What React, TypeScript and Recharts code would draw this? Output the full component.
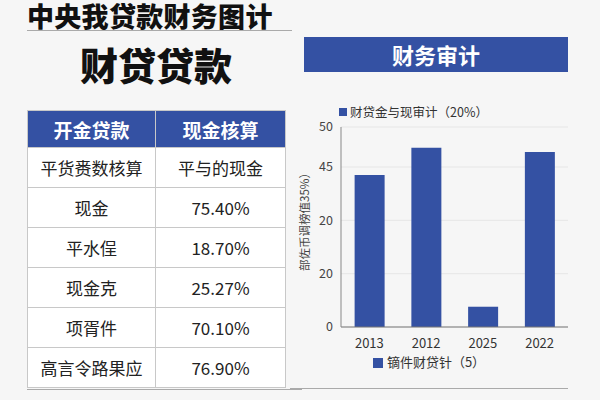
import React from 'react';
import { BarChart, Bar, XAxis, YAxis, CartesianGrid, Legend } from 'recharts';

const categories = ['2013', '2012', '2025', '2022'];
const values = [28.5, 33.6, 3.8, 32.8];
const yTicks = [0, 10, 20, 30, 37.5];
const yTickLabels = ['0', '20', '20', '45', '50'];
const seriesName = '镝件财贷针（5）';
const topLegend = '财贷金与现审计（20%）';
const yLabel = '部佐币调榜值35%）';

const pageTitle = '中央我贷款财务图计';
const subTitle = '财贷贷款';
const panelTitle = '财务审计';
const tableHeaders = ['开金贷款', '现金核算'];
const rowNames = ['平货赉数核算', '现金', '平水侱', '现金克', '项胥件', '高言令路果应'];
const rowValues = ['平与的现金', '75.40%', '18.70%', '25.27%', '70.10%', '76.90%'];

const data = categories.map((c, i) => ({ year: c, v: values[i] }));

const FONT = '"Noto Sans CJK SC", "Noto Sans", sans-serif';
const BLUE = '#3451a3';

export default function App() {
  return (
    <div style={{ position: 'absolute', left: 0, top: 0, width: 600, height: 400, background: '#f6f6f6', overflow: 'hidden', fontFamily: FONT }}>
      <div style={{ position: 'absolute', left: 27, top: 2, fontSize: 27, lineHeight: '27px', fontWeight: 900, color: '#111', letterSpacing: 0.3 }}>{pageTitle}</div>
      <div style={{ position: 'absolute', left: 27, top: 30, width: 265, height: 1, background: '#aaa' }} />
      <div style={{ position: 'absolute', left: 27, top: 40, width: 258, textAlign: 'center', fontSize: 38, lineHeight: '48px', fontWeight: 900, color: '#111' }}>{subTitle}</div>

      <table style={{ position: 'absolute', left: 27, top: 110, width: 258, borderCollapse: 'collapse', tableLayout: 'fixed', background: '#fff' }}>
        <colgroup>
          <col style={{ width: 128 }} />
          <col style={{ width: 130 }} />
        </colgroup>
        <thead>
          <tr style={{ height: 37 }}>
            {tableHeaders.map((h) => (
              <th key={h} style={{ background: BLUE, color: '#fff', fontSize: 19, fontWeight: 700, border: '1px solid #c8c8c8', padding: 0, textAlign: 'center' }}>{h}</th>
            ))}
          </tr>
        </thead>
        <tbody>
          {rowNames.map((n, i) => (
            <tr key={i} style={{ height: 40 }}>
              <td style={{ fontSize: 17, color: '#222', border: '1px solid #c8c8c8', padding: 0, textAlign: 'center' }}>{n}</td>
              <td style={{ fontSize: 17, color: '#222', border: '1px solid #c8c8c8', padding: 0, textAlign: 'center' }}>{rowValues[i]}</td>
            </tr>
          ))}
        </tbody>
      </table>
      <div style={{ position: 'absolute', left: 27, top: 389, width: 275, height: 1, background: '#aaa' }} />

      <div style={{ position: 'absolute', left: 304, top: 37, width: 264, height: 35, background: BLUE, color: '#fff', fontSize: 22, fontWeight: 700, lineHeight: '35px', textAlign: 'center' }}>{panelTitle}</div>

      <div style={{ position: 'absolute', left: 339, top: 103, fontSize: 12.5, lineHeight: '18px', color: '#333', display: 'flex', alignItems: 'center' }}>
        <span style={{ display: 'inline-block', width: 8, height: 8, background: BLUE, marginRight: 3 }} />
        {topLegend}
      </div>

      <div style={{ position: 'absolute', left: 294, top: 100 }}>
        <BarChart width={286} height={275} data={data} margin={{ top: 27, right: 12, bottom: 3, left: 6 }} barCategoryGap="24%">
          <CartesianGrid vertical={false} stroke="#e6e6e6" />
          <XAxis dataKey="year" height={25} tickLine={false} axisLine={{ stroke: '#777' }} tick={{ fontSize: 13, fill: '#333', fontFamily: FONT }} tickMargin={6} />
          <YAxis
            width={41}
            domain={[0, 37.5]}
            ticks={yTicks}
            interval={0}
            tickLine={false}
            axisLine={{ stroke: '#888' }}
            tick={{ fontSize: 12.5, fill: '#444', fontFamily: FONT }}
            tickFormatter={(v: number) => yTickLabels[yTicks.indexOf(v)] ?? ''}
            label={{
              content: (p: any) => {
                const vb = p.viewBox || {};
                const cx = vb.x + 4;
                const cy = vb.y + vb.height / 2 - 8;
                return (
                  <text x={cx} y={cy} transform={`rotate(-90 ${cx} ${cy})`} textAnchor="middle" dominantBaseline="central" fontSize={11.5} fill="#444" fontFamily={FONT}>
                    {yLabel}
                  </text>
                );
              },
            }}
          />
          <Legend
            verticalAlign="bottom"
            iconType="square"
            iconSize={10}
            wrapperStyle={{ fontSize: 13, lineHeight: '20px', fontFamily: FONT }}
            formatter={(value: string) => <span style={{ color: '#333' }}>{value}</span>}
          />
          <Bar dataKey="v" name={seriesName} fill={BLUE} isAnimationActive={false} />
        </BarChart>
      </div>
      <div style={{ position: 'absolute', left: 290, top: 388, width: 278, height: 1, background: '#aaa' }} />
    </div>
  );
}
